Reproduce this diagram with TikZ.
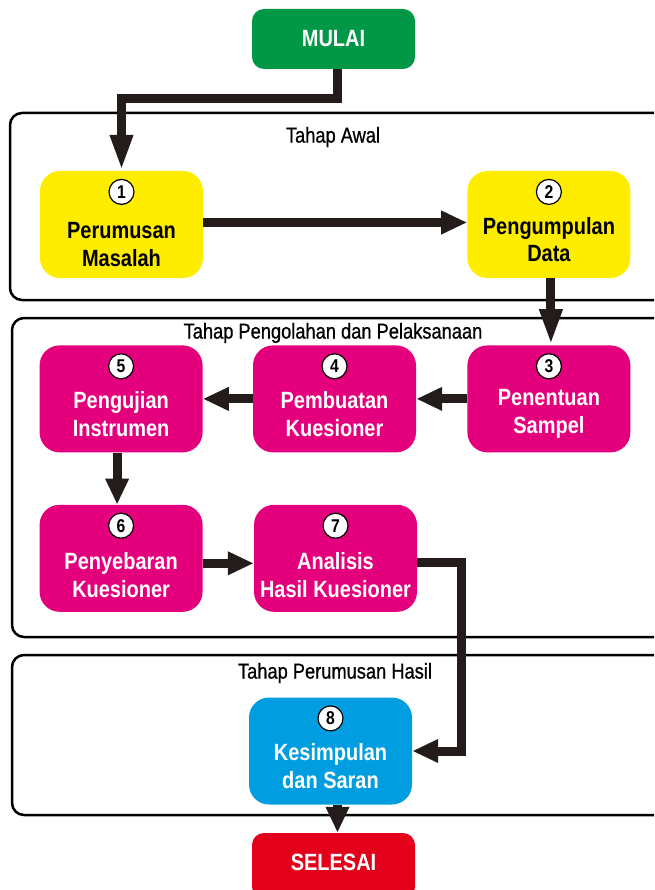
\documentclass[tikz,border=0pt]{standalone}
\usepackage{fontspec}
\setmainfont{Liberation Sans}[FakeStretch=0.85]
\newfontfamily\judulfont{Liberation Sans}[FakeStretch=0.85, FakeBold=0.8]
\usetikzlibrary{arrows.meta,positioning}

\definecolor{hijau}{RGB}{0,152,70}
\definecolor{kuning}{RGB}{255,237,0}
\definecolor{magenta}{RGB}{228,0,124}
\definecolor{biru}{RGB}{0,158,224}
\definecolor{merah}{RGB}{226,0,26}
\definecolor{panah}{RGB}{35,28,26}

\begin{document}
\begin{tikzpicture}
  [x=1pt, y=-1pt, line join=miter,
    stepbox/.style={%
      rectangle, rounded corners=20pt, inner sep=0pt,
      minimum width=163pt, minimum height=107pt
    },
    endbox/.style={%
      rectangle, rounded corners=12pt, inner sep=0pt,
      minimum width=163pt, text=white,
      font=\fontsize{23.5}{26}\selectfont\bfseries
    },
    num/.style={%
      circle, draw=black, line width=1.2pt, fill=white, text=black,
      minimum size=25pt, inner sep=0pt, anchor=north, yshift=-8pt,
      font=\fontsize{18.5}{18.5}\selectfont\bfseries
    },
    txt/.style={%
      align=center, yshift=-15pt,
      font=\fontsize{23.5}{27.5}\selectfont\bfseries
    },
    title/.style={%
      font=\judulfont\fontsize{21.5}{22}\selectfont
    },
    frame/.style={%
      draw=black, line width=2.5pt, rounded corners=12pt
    },
    arrow/.style={%
      -{Triangle[length=26pt,width=22pt]}, line width=9pt, draw=panah
    },
    longarrow/.style={%
      -{Triangle[length=36pt,width=21pt]}, line width=9pt, draw=panah
    },
  ]

  \clip (0,0) rectangle (654,890);

  % tahap
  \draw[frame] (10,113) rectangle (668,300);
  \draw[frame] (12,318) rectangle (668,637);
  \draw[frame] (12,655) rectangle (668,815);

  \node[title] (t1) at (333,137) {Tahap Awal};
  \node[title] (t2) at (333,333) {Tahap Pengolahan dan Pelaksanaan};
  \node[title] (t3) at (335,673) {Tahap Perumusan Hasil};

  % langkah
  \node[endbox, fill=hijau, minimum height=60pt] (mulai) at (333.5,39) {MULAI};

  \node[stepbox, fill=kuning,
    label={[num]north:1}, label={[txt,yshift=-5pt]center:{Perumusan\\Masalah}}]
    (b1) at (121.5,224.5) {};
  \node[stepbox, fill=kuning,
    label={[num]north:2}, label={[txt]center:{Pengumpulan\\Data}}]
    (b2) [right=264pt of b1] {};

  \node[stepbox, fill=magenta,
    label={[num]north:3}, label={[txt,text=white]center:{Penentuan\\Sampel}}]
    (b3) [below=67pt of b2] {};
  \node[stepbox, fill=magenta,
    label={[num]north:4}, label={[txt,text=white]center:{Pembuatan\\Kuesioner}}]
    (b4) [left=51pt of b3] {};
  \node[stepbox, fill=magenta,
    label={[num]north:5}, label={[txt,text=white]center:{Pengujian\\Instrumen}}]
    (b5) [left=50pt of b4] {};
  \node[stepbox, fill=magenta,
    label={[num]north:6}, label={[txt,text=white,yshift=-2pt]center:{Penyebaran\\Kuesioner}}]
    (b6) [below=52pt of b5] {};
  \node[stepbox, fill=magenta,
    label={[num]north:7}, label={[txt,text=white,yshift=-2pt]center:{Analisis\\Hasil Kuesioner}}]
    (b7) [right=51pt of b6] {};

  \node[stepbox, fill=biru,
    label={[num]north:8}, label={[txt,text=white]center:{Kesimpulan\\dan Saran}}]
    (b8) at (330.5,751) {};

  \node[endbox, fill=merah, minimum height=66pt] (selesai) at (333.5,866) {};
  \node[endbox] (selesaitxt) at (333.5,862) {SELESAI};

  % alur
  \draw[longarrow] ([xshift=4pt]mulai.south) -- ++(0,29) -| (b1.north);
  \draw[arrow] ([yshift=2pt]b1.east) -- ([yshift=2pt]b2.west);
  \draw[longarrow] ([xshift=2pt]b2.south) -- ([xshift=2pt]b3.north);
  \draw[arrow] (b3.west) -- (b4.east);
  \draw[arrow] (b4.west) -- (b5.east);
  \draw[arrow] ([xshift=-4pt]b5.south) -- ([xshift=-4pt]b6.north);
  \draw[arrow] ([yshift=-5pt]b6.east) -- ([yshift=-5pt]b7.west);
  \draw[arrow] ([yshift=-4pt]b7.east) -- ++(44,0) |- (b8.east);
  \draw[arrow] ([xshift=7pt]b8.south) -- ([xshift=7pt]b8.south |- selesai.north);

\end{tikzpicture}
\end{document}
